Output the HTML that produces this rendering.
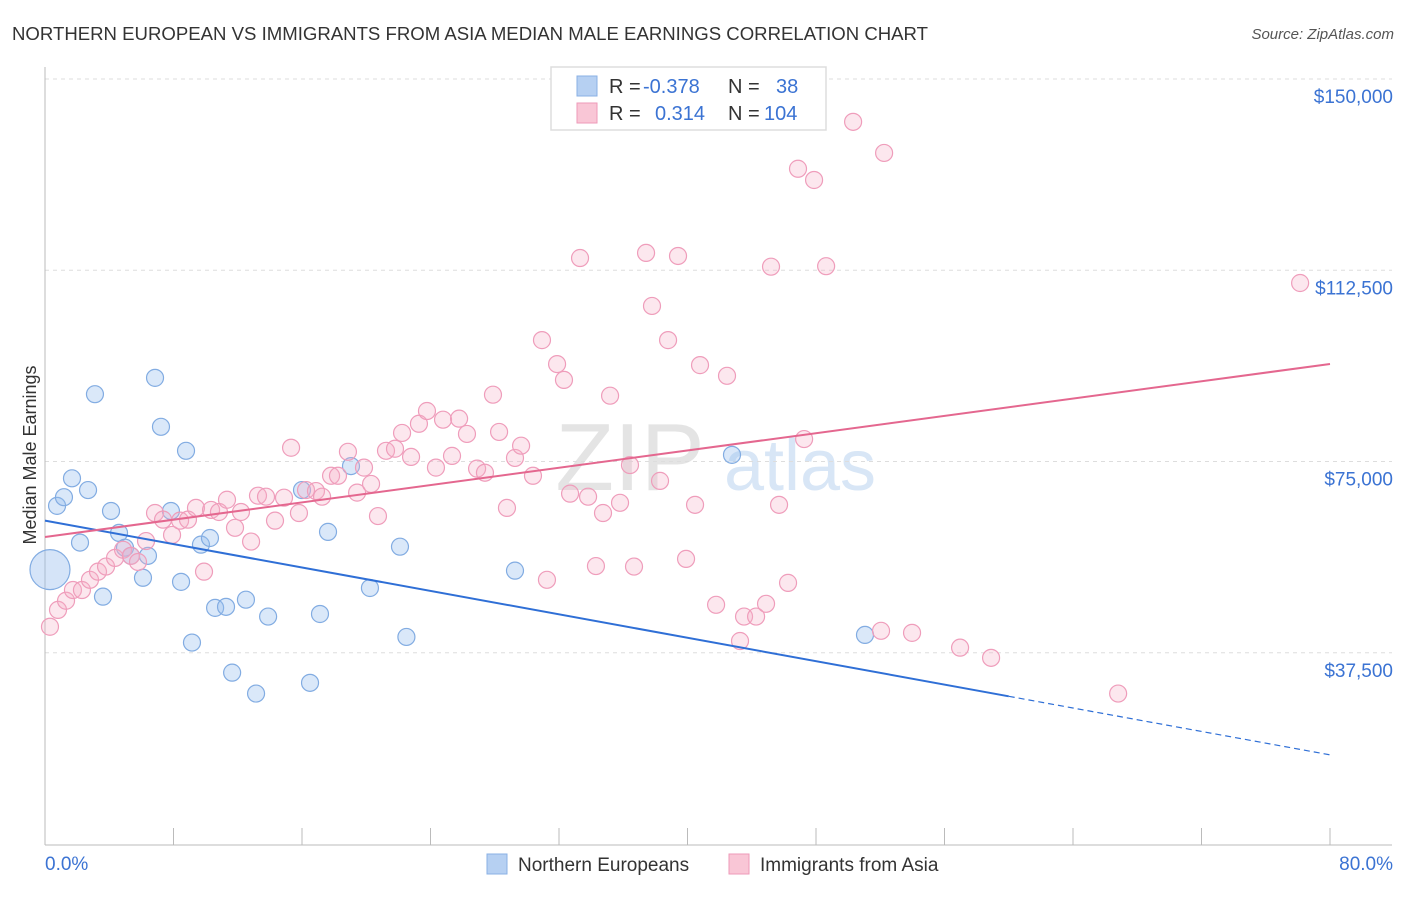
<!DOCTYPE html>
<html><head><meta charset="utf-8"><style>
body{margin:0;background:#fff;font-family:"Liberation Sans",sans-serif}
svg text{font-family:"Liberation Sans",sans-serif}
</style></head><body>
<svg id="c" width="1406" height="892" xmlns="http://www.w3.org/2000/svg">
<text x="12" y="40" font-size="18" fill="#333" textLength="916" lengthAdjust="spacingAndGlyphs">NORTHERN EUROPEAN VS IMMIGRANTS FROM ASIA MEDIAN MALE EARNINGS CORRELATION CHART</text>
<text x="1394" y="39" font-size="15" fill="#555" font-style="italic" text-anchor="end">Source: ZipAtlas.com</text>
<text x="630" y="490" font-size="96" fill="#e4e4e4" font-family="Liberation Serif" text-anchor="middle">ZIP</text>
<text x="800" y="490" font-size="72" fill="#d8e6f6" text-anchor="middle">atlas</text>
<g id="grid"></g><g id="axes"></g><g id="pts"></g><g id="lines"></g>
<text x="36" y="455" font-size="18" fill="#333" text-anchor="middle" transform="rotate(-90 36 455)">Median Male Earnings</text>
<g>
<rect x="551" y="67" width="275" height="63" fill="#fff" stroke="#ddd" stroke-width="1.5"/>
<rect x="577" y="76" width="20" height="20" fill="#b6d0f2" stroke="#8ab0e4"/>
<rect x="577" y="103" width="20" height="20" fill="#f9c6d6" stroke="#ee9ab8"/>
<text x="609" y="93" font-size="20" fill="#333">R =</text>
<text x="643" y="93" font-size="20" fill="#3b73d3">-0.378</text>
<text x="728" y="93" font-size="20" fill="#333">N =</text>
<text x="776" y="93" font-size="20" fill="#3b73d3">38</text>
<text x="609" y="120" font-size="20" fill="#333">R =</text>
<text x="655" y="120" font-size="20" fill="#3b73d3">0.314</text>
<text x="728" y="120" font-size="20" fill="#333">N =</text>
<text x="764" y="120" font-size="20" fill="#3b73d3">104</text>
</g>
<g>
<rect x="487" y="854" width="20" height="20" fill="#b6d0f2" stroke="#8ab0e4"/>
<text x="518" y="871" font-size="19" fill="#333">Northern Europeans</text>
<rect x="729" y="854" width="20" height="20" fill="#f9c6d6" stroke="#ee9ab8"/>
<text x="760" y="871" font-size="19" fill="#333">Immigrants from Asia</text>
</g>
</svg>
<script>
const yTicks=[37500,75000,112500,150000];
const yTickLabels=["$37,500","$75,000","$112,500","$150,000"];
const xTickLabels=["0.0%","80.0%"];
const blueX=[0.75,1.18,1.68,2.68,3.11,2.18,3.61,4.11,4.61,4.98,5.35,6.10,6.41,6.85,7.22,7.84,8.47,8.78,9.15,9.71,10.27,10.59,11.27,11.65,12.51,13.14,13.89,16.0,16.5,17.12,17.62,19.05,20.23,22.1,22.5,29.26,42.77,51.05];
const blueY=[66300,68000,71700,69400,88200,59100,48500,65300,61000,58100,56500,52200,56500,91400,81800,65300,51400,77100,39500,58700,60000,46300,46500,33600,47900,29500,44600,69400,31600,45100,61200,74100,50200,58300,40600,53600,76300,41000];
const bigBlue=[0.31,53800];
const pinkX=[0.31,0.81,1.31,1.74,2.30,2.80,3.30,3.80,4.36,4.86,5.35,5.79,6.29,6.85,7.35,7.91,8.41,8.90,9.40,9.90,10.34,10.83,11.33,11.83,12.20,12.83,13.26,13.76,14.32,14.88,15.32,15.81,16.25,16.87,17.25,17.81,18.24,18.86,19.43,19.86,20.30,20.73,21.23,21.79,22.23,22.79,23.28,23.78,24.34,24.78,25.34,25.78,26.27,26.90,27.39,27.89,28.27,28.76,29.26,29.64,30.38,30.94,31.25,31.88,32.31,32.69,33.31,33.81,34.30,34.74,35.18,35.80,36.42,36.67,37.42,37.79,38.29,38.79,39.41,39.91,40.47,40.78,41.78,42.46,43.27,43.52,44.27,44.89,45.20,45.70,46.26,46.88,47.26,47.88,48.63,50.31,52.05,52.24,53.98,56.97,58.90,66.81,78.14];
const pinkY=[42600,45900,47700,49800,49800,51800,53400,54400,56100,57700,56500,55300,59400,64900,63600,60600,63400,63600,65900,53400,65500,65100,67500,62000,65100,59300,68300,68100,63400,67900,77700,64900,69400,69200,68100,72200,72200,76900,68900,73800,70600,64300,77100,77500,80600,75900,82400,84900,73800,83200,76100,83400,80400,73600,72800,88100,80800,65900,75700,78100,72200,98800,51800,94100,91000,68700,114900,68100,54500,64900,87900,66900,74300,54400,115900,105500,71200,98800,115300,55900,66500,93900,46900,91800,39800,44600,44600,47100,113200,66500,51200,132400,79400,130200,113300,141600,41800,135500,41400,38500,36500,29500,110000];
const blueFit=[63400,-574];
const pinkFit=[60200,424];
const NS="http://www.w3.org/2000/svg";
const X0=45,X1=1330,Y0=844,YTOP=79;
const xs=v=>X0+(v/80)*(X1-X0);
const ys=v=>Y0-(v/150000)*(Y0-YTOP);
function mk(t,a,p){const e=document.createElementNS(NS,t);for(const k in a)e.setAttribute(k,a[k]);document.getElementById(p).appendChild(e);return e;}
yTicks.forEach((t,i)=>{
 const g=mk('line',{x1:X0,x2:1392,y1:ys(t),y2:ys(t),stroke:'#ddd','stroke-dasharray':'4,4'},'grid');
 
 
 const l=mk('text',{x:1393,y:ys(t)+24,'font-size':19,fill:'#3b73d3','text-anchor':'end'},'axes');
 l.textContent=yTickLabels[i];
 
 
});
const ya=mk('line',{x1:X0,x2:X0,y1:67,y2:845,stroke:'#bbb'},'axes');


const xa=mk('line',{x1:X0,x2:1392,y1:845,y2:845,stroke:'#bbb'},'axes');


for(let i=0;i<=10;i++){
 const t=mk('line',{x1:xs(i*8),x2:xs(i*8),y1:828,y2:845,stroke:'#bbb'},'axes');
 
 
}
[[0,'start',45],[80,'end',1393]].forEach((d,i)=>{
 const l=mk('text',{x:d[2],y:870,'font-size':19,fill:'#3b73d3','text-anchor':d[1]},'axes');
 l.textContent=xTickLabels[i];
 
 
});
blueX.forEach((x,i)=>{
 const c=mk('circle',{cx:xs(x),cy:ys(blueY[i]),r:8.5,fill:'rgba(150,188,238,0.35)',stroke:'#82acE2','stroke-width':1.2},'pts');
 
 
});
const bb=mk('circle',{cx:xs(bigBlue[0]),cy:ys(bigBlue[1]),r:20,fill:'rgba(150,188,238,0.4)',stroke:'#82acE2','stroke-width':1.2},'pts');


pinkX.forEach((x,i)=>{
 const c=mk('circle',{cx:xs(x),cy:ys(pinkY[i]),r:8.5,fill:'rgba(245,175,198,0.3)',stroke:'#ef9dbb','stroke-width':1.2},'pts');
 
 
});
const f=(fit,x)=>fit[0]+fit[1]*x;
const b1=mk('line',{x1:xs(0),y1:ys(f(blueFit,0)),x2:xs(60),y2:ys(f(blueFit,60)),stroke:'#2f6fd6','stroke-width':2},'lines');


const b2=mk('line',{x1:xs(60),y1:ys(f(blueFit,60)),x2:xs(80),y2:ys(f(blueFit,80)),stroke:'#2f6fd6','stroke-width':1.2,'stroke-dasharray':'6,4'},'lines');


const p1=mk('line',{x1:xs(0),y1:ys(f(pinkFit,0)),x2:xs(80),y2:ys(f(pinkFit,80)),stroke:'#e4678f','stroke-width':2},'lines');


</script>
</body></html>
